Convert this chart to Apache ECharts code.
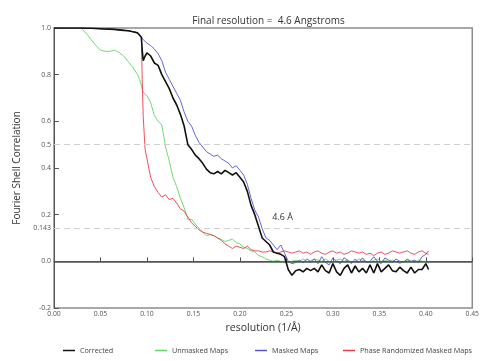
<!DOCTYPE html>
<html>
<head>
<meta charset="utf-8">
<script src="https://cdn.jsdelivr.net/npm/echarts@6/dist/echarts.min.js"></script>
<style>
html,body{margin:0;padding:0;background:#fff;}
#chart{width:482px;height:361px;}
</style>
</head>
<body>
<div id="chart"></div>
<script>
// Spatial frequency (1/Å)
const resolution = [
  0, 0.01, 0.02, 0.03, 0.035, 0.04, 0.045, 0.05, 0.055, 0.06,
  0.065, 0.07, 0.075, 0.08, 0.085, 0.09, 0.092, 0.094, 0.095, 0.096,
  0.098, 0.100, 0.104, 0.108, 0.112, 0.116, 0.120, 0.124, 0.128, 0.132,
  0.136, 0.140, 0.144, 0.148, 0.152, 0.156, 0.160, 0.164, 0.168, 0.172,
  0.176, 0.180, 0.184, 0.188, 0.192, 0.196, 0.200, 0.204, 0.208, 0.212,
  0.216, 0.220, 0.224, 0.228, 0.232, 0.236, 0.240, 0.244, 0.248, 0.252,
  0.256, 0.260, 0.264, 0.268, 0.272, 0.276, 0.280, 0.284, 0.288, 0.292,
  0.296, 0.300, 0.304, 0.308, 0.312, 0.316, 0.320, 0.324, 0.328, 0.332,
  0.336, 0.340, 0.344, 0.348, 0.352, 0.356, 0.360, 0.364, 0.368, 0.372,
  0.376, 0.380, 0.384, 0.388, 0.392, 0.396, 0.400, 0.403
];

const corrected = [
  1.0, 1.0, 1.0, 1.0, 0.999, 0.999, 0.998, 0.997, 0.996, 0.995,
  0.994, 0.992, 0.99, 0.988, 0.984, 0.979, 0.975, 0.96, 0.90, 0.86,
  0.88, 0.893, 0.88, 0.85, 0.84, 0.80, 0.77, 0.74, 0.70, 0.67,
  0.63, 0.58, 0.50, 0.48, 0.455, 0.44, 0.42, 0.395, 0.38, 0.375,
  0.385, 0.375, 0.39, 0.38, 0.37, 0.38, 0.36, 0.34, 0.30, 0.24,
  0.20, 0.15, 0.10, 0.085, 0.07, 0.04, 0.035, 0.03, 0.02, -0.035,
  -0.06, -0.04, -0.035, -0.045, -0.03, -0.04, -0.03, -0.045, -0.015, -0.04,
  -0.05, -0.01, -0.045, -0.06, -0.03, -0.015, -0.05, -0.02, -0.045, -0.03,
  -0.05, -0.015, -0.05, -0.01, -0.045, -0.03, -0.015, -0.04, -0.045, -0.025,
  -0.04, -0.05, -0.025, -0.05, -0.035, -0.035, -0.01, -0.035
];

const unmaskedMaps = [
  1.0, 1.0, 1.0, 0.997, 0.975, 0.95, 0.925, 0.905, 0.9, 0.9,
  0.905, 0.895, 0.88, 0.855, 0.83, 0.80, 0.78, 0.755, 0.735, 0.725,
  0.72, 0.71, 0.68, 0.625, 0.60, 0.585, 0.49, 0.43, 0.36, 0.32,
  0.27, 0.23, 0.18, 0.18, 0.16, 0.14, 0.125, 0.11, 0.115, 0.11,
  0.10, 0.095, 0.085, 0.09, 0.095, 0.08, 0.075, 0.06, 0.055, 0.045,
  0.04, 0.025, 0.02, 0.01, 0.005, 0.0, 0.005, 0.0, 0.0, -0.005,
  0.0, 0.005, 0.0, 0.01, 0.0, -0.005, 0.01, 0.005, 0.0, 0.01,
  0.0, -0.005, 0.005, 0.01, 0.0, 0.005, -0.005, 0.0, 0.01, 0.005,
  0.0, -0.005, 0.005, 0.01, 0.0, 0.005, 0.0, 0.005, 0.0, -0.01,
  0.0, 0.005, 0.0, -0.005, 0.005, 0.0, 0.0, -0.01
];

const maskedMaps = [
  1.0, 1.0, 1.0, 1.0, 0.999, 0.999, 0.998, 0.997, 0.996, 0.995,
  0.994, 0.992, 0.99, 0.988, 0.984, 0.979, 0.975, 0.962, 0.955, 0.95,
  0.943, 0.935, 0.925, 0.91, 0.89, 0.86, 0.81, 0.78, 0.75, 0.72,
  0.69, 0.64, 0.60, 0.58, 0.54, 0.51, 0.49, 0.47, 0.46, 0.45,
  0.455, 0.44, 0.43, 0.42, 0.40, 0.41, 0.39, 0.37, 0.33, 0.27,
  0.22, 0.19, 0.14, 0.10, 0.09, 0.07, 0.05, 0.07, 0.035, 0.0,
  -0.01, -0.005, 0.005, -0.005, 0.01, 0.0, 0.01, -0.01, 0.02, -0.005,
  -0.015, 0.015, 0.0, -0.01, 0.015, 0.005, -0.01, 0.01, -0.005, 0.015,
  -0.005, 0.0, 0.02, 0.0, -0.01, 0.015, 0.005, -0.005, 0.01, 0.0,
  -0.005, 0.01, 0.0, 0.005, -0.005, 0.02, 0.03, 0.045
];

const phaseRandomized = [
  1.0, 1.0, 1.0, 1.0, 0.999, 0.999, 0.998, 0.997, 0.996, 0.995,
  0.994, 0.992, 0.99, 0.988, 0.984, 0.979, 0.975, 0.96, 0.76, 0.62,
  0.48, 0.44, 0.36, 0.32, 0.295, 0.275, 0.285, 0.265, 0.27, 0.25,
  0.225, 0.215, 0.19, 0.165, 0.15, 0.135, 0.125, 0.12, 0.115, 0.11,
  0.10, 0.09, 0.075, 0.065, 0.055, 0.065, 0.06, 0.055, 0.065, 0.05,
  0.045, 0.045, 0.04, 0.04, 0.045, 0.04, 0.035, 0.04, 0.045, 0.04,
  0.035, 0.04, 0.045, 0.035, 0.04, 0.03, 0.04, 0.045, 0.035, 0.03,
  0.04, 0.045, 0.035, 0.04, 0.03, 0.035, 0.045, 0.04, 0.035, 0.04,
  0.03, 0.035, 0.025, 0.035, 0.04, 0.03, 0.035, 0.045, 0.04, 0.035,
  0.04, 0.045, 0.035, 0.03, 0.04, 0.045, 0.035, 0.03
];

const yTickValues = [-0.2, 0.0, 0.143, 0.2, 0.4, 0.5, 0.6, 0.8, 1.0];
const thresholds = [0.5, 0.143];
const seriesNames = ['Corrected', 'Unmasked Maps', 'Masked Maps', 'Phase Randomized Masked Maps'];
const titleText = 'Final resolution =  4.6 Angstroms';
const annotationText = '4.6 Å';
const annotationPos = [0.246, 0.186];

const FONT = 'Open Sans';
const pair = arr => resolution.map((x, i) => [x, arr[i]]);

const chart = echarts.init(document.getElementById('chart'), null, {renderer: 'canvas'});

function legendAt(name, left) {
  return {
    data: [name], left: left, top: 347,
    icon: 'rect', itemWidth: 12, itemHeight: 1.5,
    textStyle: {fontFamily: FONT, fontSize: 7.2, color: '#444'},
    padding: 0
  };
}

chart.setOption({
  animation: false,
  backgroundColor: '#fff',
  title: {
    text: titleText, left: 263.5, textAlign: 'center', top: 11,
    textStyle: {fontFamily: FONT, fontSize: 10, fontWeight: 'normal', color: '#333'}
  },
  legend: [
    legendAt(seriesNames[0], 63),
    legendAt(seriesNames[1], 155),
    legendAt(seriesNames[2], 255),
    legendAt(seriesNames[3], 343)
  ],
  grid: {
    left: 54, right: 9, top: 28, bottom: 53,
    show: true, borderColor: '#8c8c8c', borderWidth: 1.5
  },
  xAxis: {
    type: 'value', min: 0, max: 0.45, interval: 0.05,
    name: 'resolution (1/Å)', nameLocation: 'middle', nameGap: 14,
    nameTextStyle: {fontFamily: FONT, fontSize: 10.5, color: '#333'},
    axisLine: {show: true, lineStyle: {color: '#555', width: 1}},
    axisTick: {show: true, inside: true, length: 4, lineStyle: {color: '#555'}},
    axisLabel: {fontFamily: FONT, fontSize: 6.8, color: '#555', margin: 3,
      formatter: v => v.toFixed(2)},
    splitLine: {show: false}
  },
  yAxis: {
    type: 'value', min: -0.2, max: 1.0, interval: 0.1,
    name: 'Fourier Shell Correlation', nameLocation: 'middle', nameGap: 31,
    nameTextStyle: {fontFamily: FONT, fontSize: 10, color: '#333'},
    axisLine: {show: true, lineStyle: {color: '#555', width: 1}},
    axisTick: {show: true, inside: true, length: 5, lineStyle: {color: '#555'},
      customValues: yTickValues},
    axisLabel: {fontFamily: FONT, fontSize: 7, color: '#555', margin: 3,
      customValues: yTickValues,
      formatter: v => (Math.abs(v - 0.143) < 1e-6 ? '0.143' : v.toFixed(1))},
    splitLine: {show: false}
  },
  series: [
    {
      name: seriesNames[1], type: 'line', data: pair(unmaskedMaps),
      showSymbol: false, symbol: 'none', lineStyle: {color: '#5fd660', width: 0.9},
      itemStyle: {color: '#5fd660'}, z: 2,
      markLine: {
        silent: true, symbol: 'none', label: {show: false},
        data: [
          {yAxis: thresholds[0], lineStyle: {color: '#cfcfcf', type: [6, 4], width: 1}},
          {yAxis: thresholds[1], lineStyle: {color: '#cfcfcf', type: [6, 4], width: 1}},
          {yAxis: 0, lineStyle: {color: '#555', type: 'solid', width: 1.5}}
        ]
      }
    },
    {
      name: seriesNames[3], type: 'line', data: pair(phaseRandomized),
      showSymbol: false, symbol: 'none', lineStyle: {color: '#ee3b4b', width: 0.9},
      itemStyle: {color: '#ee3b4b'}, z: 3
    },
    {
      name: seriesNames[2], type: 'line', data: pair(maskedMaps),
      showSymbol: false, symbol: 'none', lineStyle: {color: '#5454d4', width: 0.9},
      itemStyle: {color: '#5454d4'}, z: 4
    },
    {
      name: seriesNames[0], type: 'line', data: pair(corrected),
      showSymbol: false, symbol: 'none', lineStyle: {color: '#111', width: 1.6},
      itemStyle: {color: '#111'}, z: 5,
      markPoint: {
        silent: true, symbol: 'circle', symbolSize: 0,
        data: [{coord: annotationPos, value: annotationText}],
        label: {show: true, position: 'inside', formatter: annotationText,
          fontFamily: FONT, fontSize: 9, color: '#333'}
      }
    }
  ]
});
</script>
</body>
</html>
